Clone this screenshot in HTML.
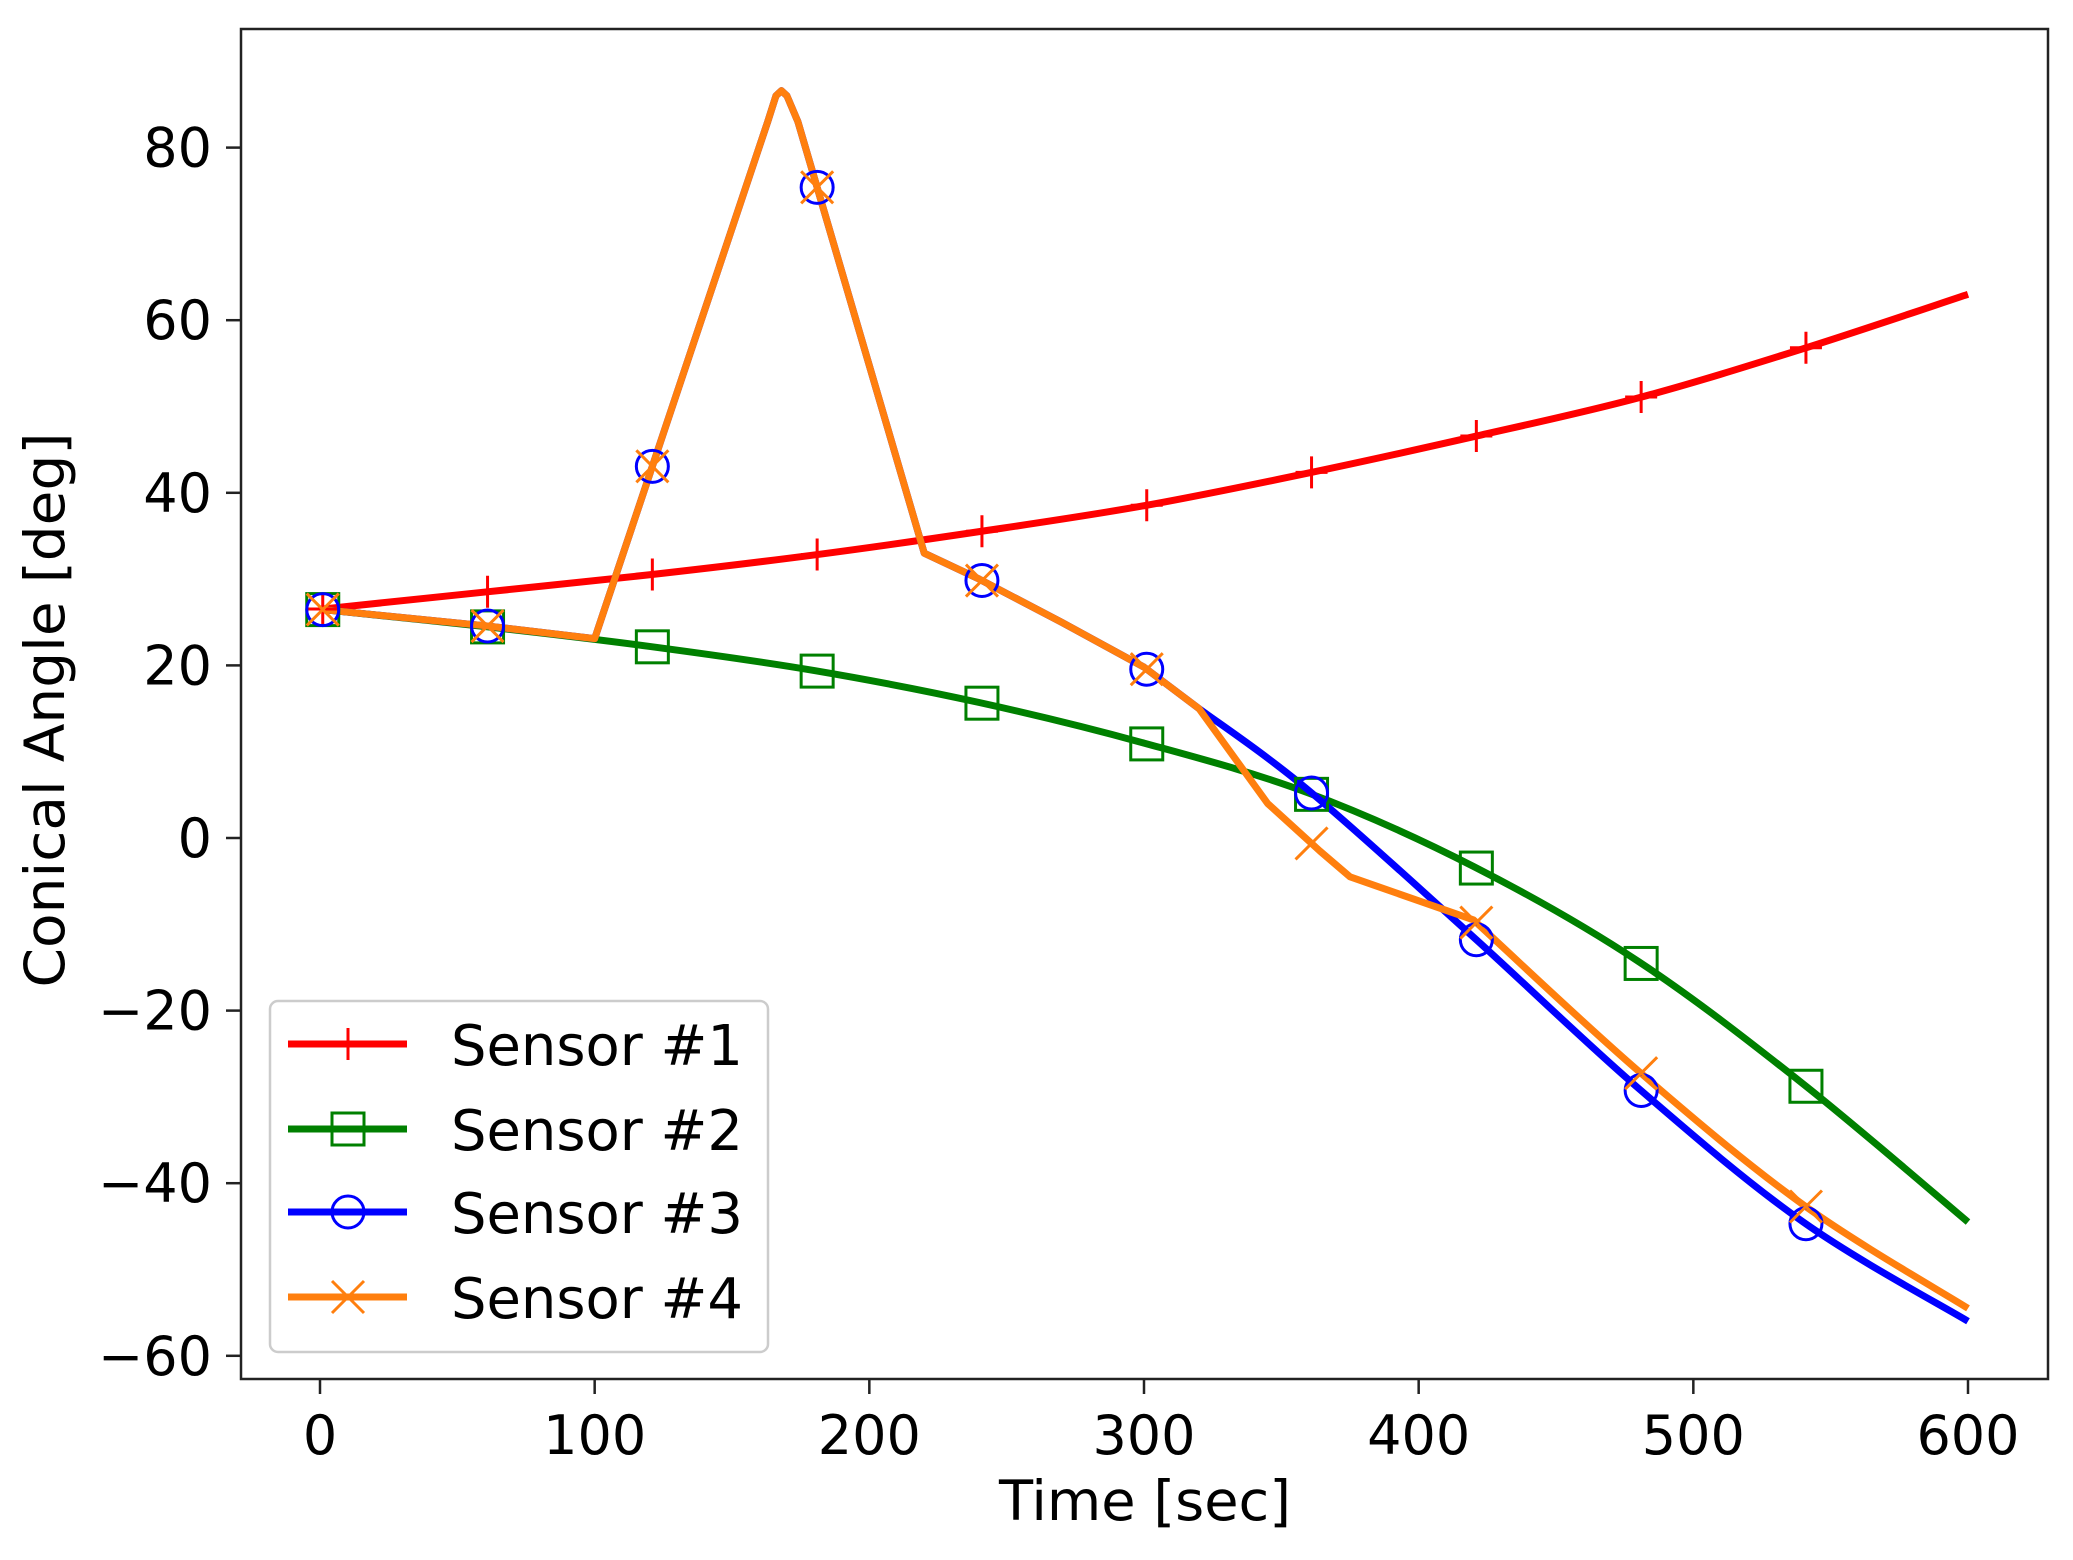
<!DOCTYPE html>
<html><head><meta charset="utf-8"><style>
html,body{margin:0;padding:0;background:#fff}
svg{display:block}
text{font-family:"DejaVu Sans","Liberation Sans",sans-serif;fill:#000}
</style></head><body>
<svg id="s" width="2073" height="1560" viewBox="0 0 2073 1560" xmlns="http://www.w3.org/2000/svg">
<rect width="2073" height="1560" fill="#fff"/>
<defs><clipPath id="c"><rect x="241" y="29" width="1807" height="1350"/></clipPath></defs>
<g id="plot" clip-path="url(#c)"></g>
<rect x="241" y="29" width="1807" height="1350" fill="none" stroke="#222" stroke-width="2.5"/>
<g id="ticks"></g>
<text x="1145" y="1520" font-size="55" text-anchor="middle" textLength="292" lengthAdjust="spacingAndGlyphs">Time [sec]</text>
<text transform="translate(64,710) rotate(-90)" font-size="55" text-anchor="middle" textLength="555" lengthAdjust="spacingAndGlyphs">Conical Angle [deg]</text>
<rect x="270" y="1001" width="498" height="351" rx="8" fill="#fff" fill-opacity="0.85" stroke="#ccc" stroke-width="2.5"/>
<g id="leg"></g>
</svg>
<script>
const X=t=>320+t*(1648/600), Y=v=>838-v*8.63;
function interp(pts,t){for(let i=0;i<pts.length-1;i++){if(t>=pts[i][0]&&t<=pts[i+1][0]){const a=pts[i],b=pts[i+1];return a[1]+(b[1]-a[1])*(t-a[0])/(b[0]-a[0]);}}return pts[pts.length-1][1];}
function smooth(pts){
 let d="M"+X(pts[0][0])+","+Y(pts[0][1]);
 for(let i=0;i<pts.length-1;i++){const p0=pts[Math.max(0,i-1)],p1=pts[i],p2=pts[i+1],p3=pts[Math.min(pts.length-1,i+2)];
  const c1=[X(p1[0])+(X(p2[0])-X(p0[0]))/6,Y(p1[1])+(Y(p2[1])-Y(p0[1]))/6];
  const c2=[X(p2[0])-(X(p3[0])-X(p1[0]))/6,Y(p2[1])-(Y(p3[1])-Y(p1[1]))/6];
  d+=`C${c1[0]},${c1[1]} ${c2[0]},${c2[1]} ${X(p2[0])},${Y(p2[1])}`;}
 return d;}
const s1=[[0,26.5],[60,28.5],[120,30.5],[180,32.8],[240,35.5],[300,38.5],[360,42.3],[420,46.5],[480,51],[540,56.7],[600,63]];
const s2=[[0,26.5],[60,24.5],[120,22.2],[180,19.4],[240,15.7],[300,11],[360,5.2],[420,-3.3],[480,-14.3],[540,-28.5],[600,-44.5]];
const pre=[[0,26.5],[60,24.6],[100,23.1],[163,83],[166,86],[168,86.6],[170,86],[174,83],[220,33],[240,30],[270,25],[300,19.8],[320,15]];
const s3tail=[[320,15],[360,5.5],[420,-11.5],[480,-29],[540,-44.5],[600,-56]];
const s4mid=[[320,15],[345,4],[364,-1.5],[375,-4.5],[420,-9.5]];
const s4tail=[[420,-9.5],[480,-27],[540,-42.5],[600,-54.5]];
const preD=pre.map(p=>X(p[0])+","+Y(p[1])).join(" L");
const P=document.getElementById("plot");
let h="";
const LW=7;
h+=`<path d="${smooth(s1)}" fill="none" stroke="#ff0000" stroke-width="${LW}"/>`;
h+=`<path d="${smooth(s2)}" fill="none" stroke="#008000" stroke-width="${LW}"/>`;
h+=`<path d="M${preD} ${smooth(s3tail).replace(/^M[^C]*/,"")}" fill="none" stroke="#0000ff" stroke-width="${LW}" stroke-linejoin="round"/>`;
const s4D="M"+preD+" L"+s4mid.slice(1).map(p=>X(p[0])+","+Y(p[1])).join(" L")+" "+smooth(s4tail).replace(/^M[^C]*/,"");
h+=`<path d="${s4D}" fill="none" stroke="#ff7f0e" stroke-width="${LW}" stroke-linejoin="round"/>`;
function mk(type,x,y,c){const r=16;
 if(type=="+")return `<path d="M${x-r},${y}H${x+r}M${x},${y-r}V${y+r}" stroke="${c}" stroke-width="3" fill="none"/>`;
 if(type=="s")return `<rect x="${x-r}" y="${y-r}" width="${2*r}" height="${2*r}" stroke="${c}" stroke-width="3" fill="none"/>`;
 if(type=="o")return `<circle cx="${x}" cy="${y}" r="${r}" stroke="${c}" stroke-width="3" fill="none"/>`;
 if(type=="x")return `<path d="M${x-r},${y-r}L${x+r},${y+r}M${x-r},${y+r}L${x+r},${y-r}" stroke="${c}" stroke-width="3" fill="none"/>`;}
const s3all=pre.concat(s3tail.slice(1)), s4all=pre.concat(s4mid.slice(1),s4tail.slice(1));
for(let t0=0;t0<=540;t0+=60){
 const t=t0+1;
 h+=mk("+",X(t),Y(interp(s1,t)),"#ff0000");
 h+=mk("s",X(t),Y(interp(s2,t)),"#008000");
 h+=mk("o",X(t),Y(interp(s3all,t)),"#0000ff");
 h+=mk("x",X(t),Y(interp(s4all,t)),"#ff7f0e");
}
P.innerHTML=h;
let tk="";
for(let t=0;t<=600;t+=100){const x=X(t);tk+=`<line x1="${x}" y1="1379" x2="${x}" y2="1394" stroke="#222" stroke-width="2.5"/><text x="${x}" y="1454" font-size="54" text-anchor="middle">${t}</text>`;}
for(let v=-60;v<=80;v+=20){const y=Y(v);tk+=`<line x1="226" y1="${y}" x2="241" y2="${y}" stroke="#222" stroke-width="2.5"/><text x="212" y="${y+19}" font-size="54" text-anchor="end">${v<0?"\u2212"+(-v):v}</text>`;}
document.getElementById("ticks").innerHTML=tk;
const L=[["Sensor #1","#ff0000","+"],["Sensor #2","#008000","s"],["Sensor #3","#0000ff","o"],["Sensor #4","#ff7f0e","x"]];
const ys=[1044,1129,1212,1297];let lg="";
L.forEach((l,i)=>{const y=ys[i];lg+=`<line x1="288" y1="${y}" x2="407" y2="${y}" stroke="${l[1]}" stroke-width="${LW}"/>`+mk(l[2],348,y,l[1])+`<text x="451" y="${y+21}" font-size="56" textLength="292" lengthAdjust="spacingAndGlyphs">${l[0]}</text>`;});
document.getElementById("leg").innerHTML=lg;
</script>
</body></html>
